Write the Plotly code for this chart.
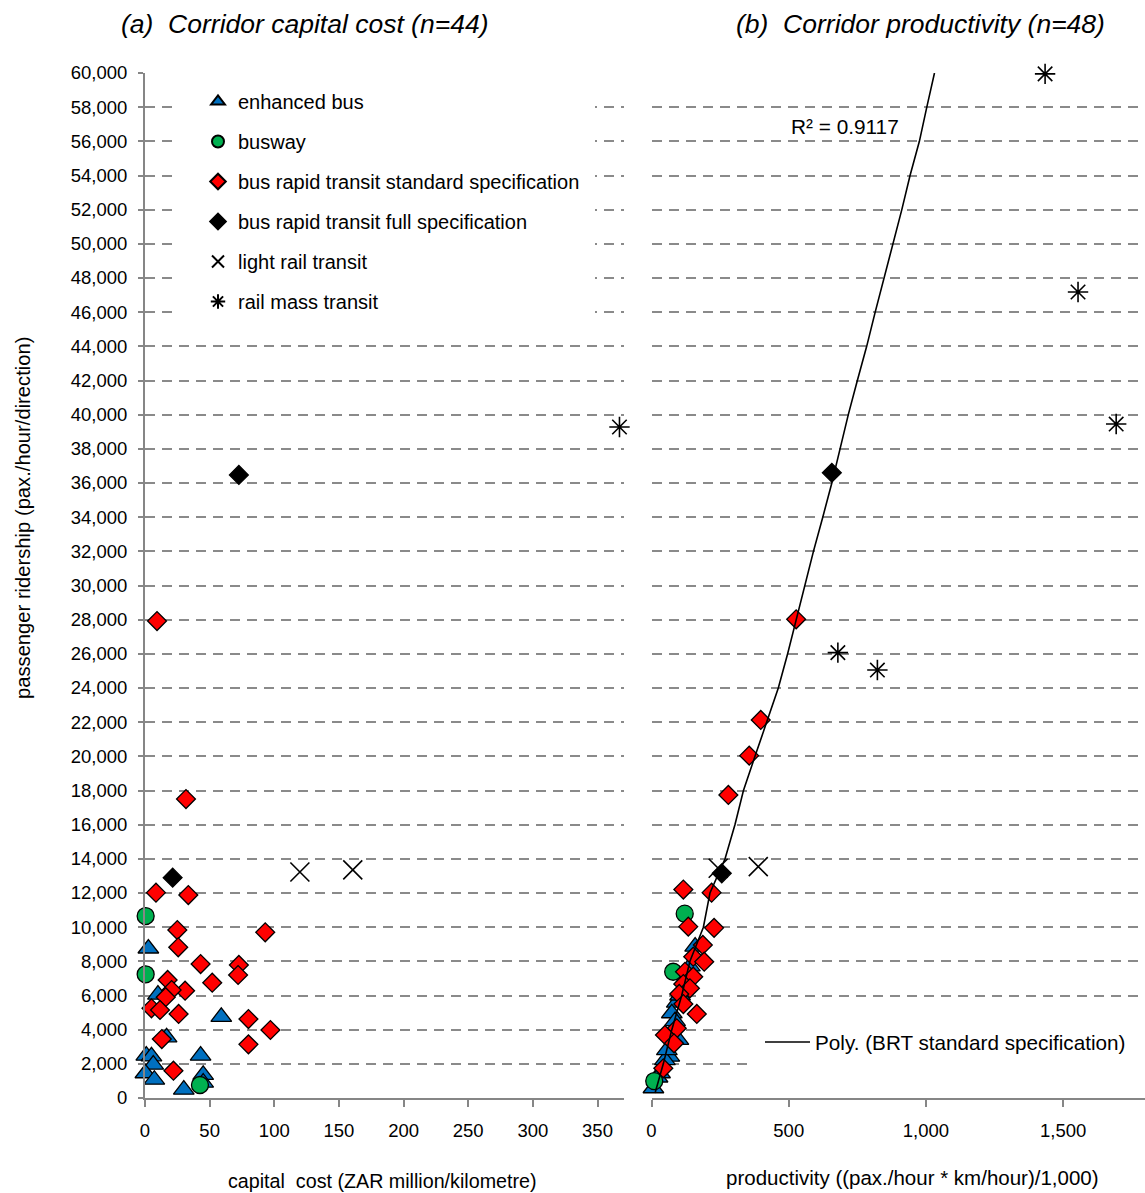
import plotly.graph_objects as go

# ---------------- data: panel (a) capital cost vs ridership ----------------
cost_enhanced_bus = [2.6, 10, 59, 16.7, 1, 5, 43, 6.4, 0.3, 7.2, 45, 45, 30]
ridership_cost_enhanced_bus = [8750, 6050, 4750, 3550, 2480, 2440, 2480, 1950, 1450, 1070, 1350, 900, 490]

cost_busway = [0.5, 0.5, 42.5]
ridership_cost_busway = [10650, 7240, 760]

cost_brt_standard = [8.5, 33.5, 25, 93, 25.7, 43, 72.6, 72, 17.5, 52, 31, 20.6, 16, 5, 11.6,
                     26, 80, 97, 80, 13, 22, 9.3, 31.7]
ridership_cost_brt_standard = [12020, 11880, 9830, 9700, 8820, 7840, 7790, 7200, 6910, 6750, 6280,
                               6320, 5900, 5250, 5150, 4920, 4620, 3980, 3140, 3450, 1600, 27920, 17500]

cost_brt_full = [21.4, 72.6]
ridership_cost_brt_full = [12900, 36470]

cost_lrt = [119.8, 160.7]
ridership_cost_lrt = [13230, 13350]

cost_rail = [367]
ridership_cost_rail = [39280]

# ---------------- data: panel (b) productivity vs ridership ----------------
prod_enhanced_bus = [159, 92, 74, 98, 65, 49, 31, 7, 104, 86, 120, 56, 22, 140]
ridership_prod_enhanced_bus = [8860, 5580, 4960, 3400, 2420, 2220, 1450, 570, 6000, 4500, 6900, 2800, 1200, 7700]

prod_busway = [121, 79, 10]
ridership_prod_busway = [10790, 7390, 990]

prod_brt_standard = [527, 398, 356, 280, 116, 219, 134, 228, 187, 152, 192, 122, 152, 116, 140,
                     101, 116, 165, 92, 49, 82, 43]
ridership_prod_brt_standard = [28020, 22130, 20040, 17740, 12200, 12020, 10030, 9960, 8960, 8270,
                               7980, 7390, 7100, 6670, 6420, 6090, 5500, 4920, 4080, 3690, 3200, 1740]

prod_brt_full = [657, 256]
ridership_prod_brt_full = [36600, 13150]

prod_lrt = [243, 389]
ridership_prod_lrt = [13450, 13540]

prod_rail = [1434, 1554, 1693, 679, 823]
ridership_prod_rail = [59950, 47180, 39450, 26070, 25050]

# polynomial trendline (BRT standard specification)
trend_productivity = [13, 43, 74, 110, 140, 189, 213, 268, 304, 335, 377, 420, 462, 496, 527,
                      559, 590, 624, 657, 687, 717, 750, 784, 815, 847, 881, 912, 942, 976, 1003, 1031]
trend_ridership = [290, 2000, 4000, 6000, 8000, 10000, 12000, 14000, 16000, 18000, 20000, 22000,
                   24000, 26000, 28000, 30000, 32000, 34000, 36000, 38000, 40000, 42000, 44000,
                   46000, 48000, 50000, 52000, 54000, 56000, 58000, 60000]
trend_r2_text = "R² = 0.9117"

category_names = ["enhanced bus", "busway", "bus rapid transit standard specification",
                  "bus rapid transit full specification", "light rail transit", "rail mass transit"]
title_a = "(a)  Corridor capital cost (n=44)"
title_b = "(b)  Corridor productivity (n=48)"
y_title = "passenger ridership (pax./hour/direction)"
x_title_a = "capital  cost (ZAR million/kilometre)"
x_title_b = "productivity ((pax./hour * km/hour)/1,000)"
trend_name = "Poly. (BRT standard specification)"

# ---------------- figure ----------------
W, H = 1145, 1193
FONT = "Liberation Sans, Arial, Helvetica, sans-serif"
GRID = "#8a8a8a"
AXIS = "#868686"


def px(p):
    return p / W


def py(p):
    return 1 - p / H


fig = go.Figure()

styles = [
    dict(symbol="triangle-up", size=18, color="#0070C0", line=dict(color="black", width=1.3)),
    dict(symbol="circle", size=17, color="#00B050", line=dict(color="black", width=1.3)),
    dict(symbol="diamond", size=14.5, color="#FF0000", line=dict(color="black", width=1.3)),
    dict(symbol="diamond", size=14.5, color="#000000", line=dict(color="black", width=1.3)),
    dict(symbol="x-thin", size=19, color="black", line=dict(color="black", width=1.6)),
    dict(symbol="asterisk", size=17, color="black", line=dict(color="black", width=1.6)),
]

panel_a = [(cost_enhanced_bus, ridership_cost_enhanced_bus), (cost_busway, ridership_cost_busway),
           (cost_brt_standard, ridership_cost_brt_standard), (cost_brt_full, ridership_cost_brt_full),
           (cost_lrt, ridership_cost_lrt), (cost_rail, ridership_cost_rail)]
panel_b = [(prod_enhanced_bus, ridership_prod_enhanced_bus), (prod_busway, ridership_prod_busway),
           (prod_brt_standard, ridership_prod_brt_standard), (prod_brt_full, ridership_prod_brt_full),
           (prod_lrt, ridership_prod_lrt), (prod_rail, ridership_prod_rail)]

for i, (name, st, (xa, ya)) in enumerate(zip(category_names, styles, panel_a)):
    fig.add_trace(go.Scatter(x=xa, y=ya, mode="markers", name=name, marker=st,
                             xaxis="x", yaxis="y", legendgroup=f"g{i}", legend="legend",
                             cliponaxis=False, hoverinfo="skip"))

for i, (name, st, (xb, yb)) in enumerate(zip(category_names, styles, panel_b)):
    fig.add_trace(go.Scatter(x=xb, y=yb, mode="markers", name=name, marker=st,
                             xaxis="x2", yaxis="y2", legendgroup=f"g{i}", showlegend=False,
                             cliponaxis=False, hoverinfo="skip"))

fig.add_trace(go.Scatter(x=trend_productivity, y=trend_ridership, mode="lines", name=trend_name,
                         line=dict(color="black", width=1.6), xaxis="x2", yaxis="y2",
                         legend="legend2", hoverinfo="skip"))

common_y = dict(range=[0, 60000], dtick=2000, domain=[py(1098), py(73)], showgrid=True,
                gridcolor=GRID, gridwidth=1.6, griddash="10px,7px", zeroline=False, fixedrange=True,
                automargin=False)

fig.update_layout(
    template="none",
    width=W, height=H, margin=dict(l=0, r=0, t=0, b=0, pad=0, autoexpand=False),
    paper_bgcolor="white", plot_bgcolor="white",
    font=dict(family=FONT, color="black"),
    xaxis=dict(domain=[px(145), px(624)], range=[0, 370.5], dtick=50, showgrid=False, zeroline=False,
               showline=True, linecolor=AXIS, linewidth=2, ticks="outside", ticklen=7, tickwidth=1.5,
               tickcolor=AXIS, tickfont=dict(size=18.5), ticklabelstandoff=8, anchor="y",
               automargin=False, fixedrange=True),
    yaxis=dict(**common_y, showline=True, linecolor=AXIS, linewidth=2, ticks="outside", ticklen=5,
               tickwidth=1.5, tickcolor=AXIS, tickformat=",", tickfont=dict(size=18.5),
               ticklabelstandoff=7, anchor="x"),
    xaxis2=dict(domain=[px(651.5), 1], range=[0, 1798], dtick=500, showgrid=False, zeroline=False,
                showline=True, linecolor=AXIS, linewidth=2, ticks="outside", ticklen=7, tickwidth=1.5,
                tickcolor=AXIS, tickformat=",", tickfont=dict(size=18.5), ticklabelstandoff=8,
                anchor="y2", automargin=False, fixedrange=True),
    yaxis2=dict(**common_y, showline=False, showticklabels=False, ticks="", anchor="x2"),
    legend=dict(x=px(198), y=py(82), xanchor="left", yanchor="top", bgcolor="white",
                font=dict(size=20), tracegroupgap=11, itemsizing="constant", traceorder="grouped"),
    legend2=dict(x=px(760), y=py(1022), xanchor="left", yanchor="top", bgcolor="white",
                 font=dict(size=20.7), itemwidth=45),
    showlegend=True,
    shapes=[
        dict(type="rect", xref="paper", yref="paper", x0=px(172), x1=px(595), y0=py(325), y1=py(88),
             fillcolor="white", line=dict(width=0), layer="above"),
        dict(type="rect", xref="paper", yref="paper", x0=px(752), x1=1, y0=py(1076), y1=py(1020),
             fillcolor="white", line=dict(width=0), layer="above"),
    ],
    annotations=[
        dict(text=f"<i>{title_a}</i>", x=px(304), y=py(24), xref="paper", yref="paper",
             showarrow=False, font=dict(size=26.5), xanchor="center", yanchor="middle"),
        dict(text=f"<i>{title_b}</i>", x=px(920), y=py(24), xref="paper", yref="paper",
             showarrow=False, font=dict(size=26.5), xanchor="center", yanchor="middle"),
        dict(text=y_title, x=px(23), y=py(518), xref="paper", yref="paper", textangle=-90,
             showarrow=False, font=dict(size=20.2), xanchor="center", yanchor="middle"),
        dict(text=x_title_a, x=px(382), y=py(1181), xref="paper", yref="paper",
             showarrow=False, font=dict(size=19.7), xanchor="center", yanchor="middle"),
        dict(text=x_title_b, x=px(913), y=py(1177), xref="paper", yref="paper",
             showarrow=False, font=dict(size=20.5), xanchor="center", yanchor="middle"),
        dict(text=trend_r2_text, x=px(845), y=py(126), xref="paper", yref="paper",
             showarrow=False, font=dict(size=20.8), xanchor="center", yanchor="middle"),
    ],
)

fig.write_html("out.html", config={"displayModeBar": False},
               post_script="document.body.style.margin='0';document.body.style.overflow='hidden';")
